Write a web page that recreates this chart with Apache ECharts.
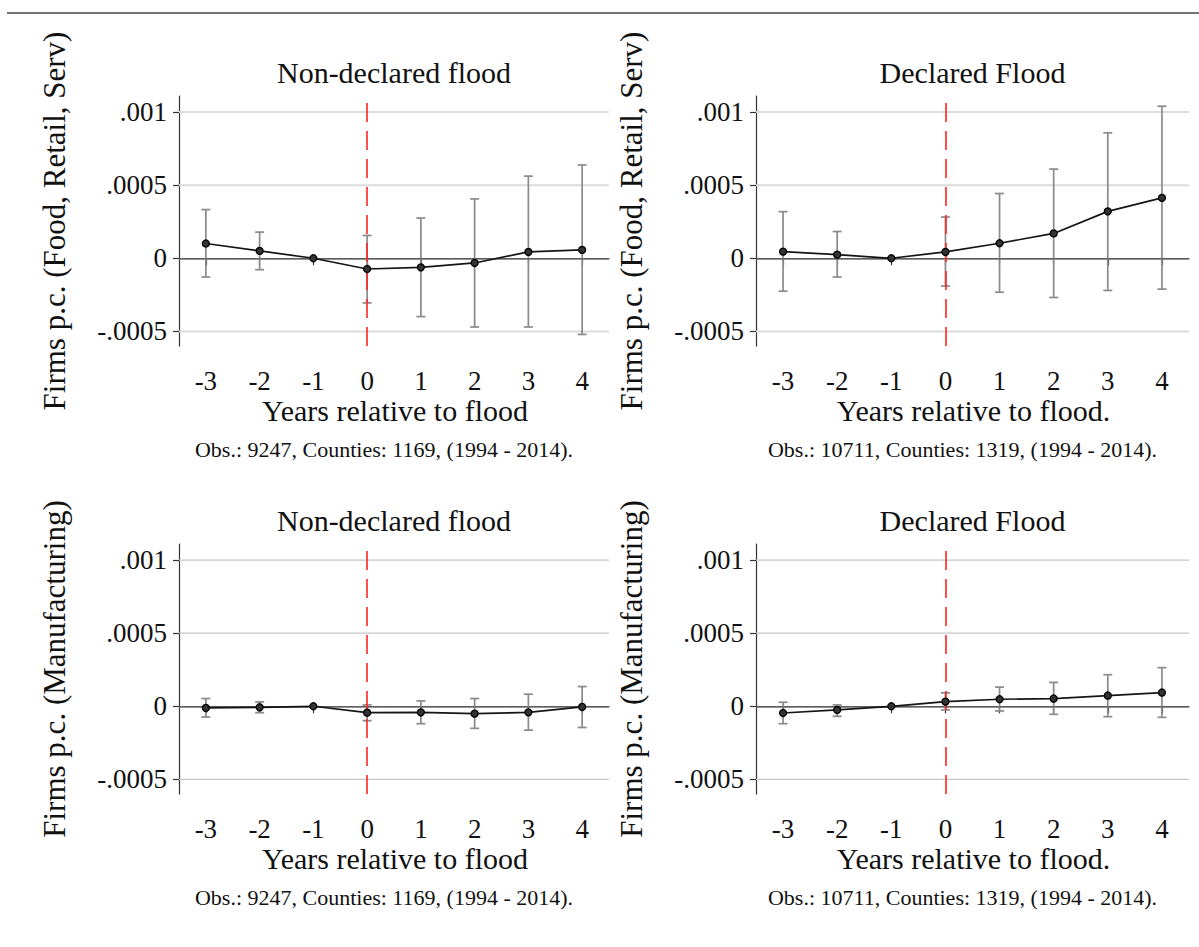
<!DOCTYPE html>
<html>
<head>
<meta charset="utf-8">
<script src="https://cdn.jsdelivr.net/npm/echarts@6/dist/echarts.min.js"></script>
<style>
html,body{margin:0;padding:0;background:#fff;}
#chart{width:1199px;height:947px;}
</style>
</head>
<body>
<div id="chart"></div>
<script>
// ---------- DATA ----------
const xCats = ['-3', '-2', '-1', '0', '1', '2', '3', '4'];
const yTickValues = [-0.0005, 0, 0.0005, 0.001];
const yTickLabels = ['-.0005', '0', '.0005', '.001'];

const panelTitles = ['Non-declared flood', 'Declared Flood', 'Non-declared flood', 'Declared Flood'];
const xTitles = ['Years relative to flood', 'Years relative to flood.', 'Years relative to flood', 'Years relative to flood.'];
const yTitles = ['Firms p.c. (Food, Retail, Serv)', 'Firms p.c. (Food, Retail, Serv)', 'Firms p.c. (Manufacturing)', 'Firms p.c. (Manufacturing)'];
const notes = ['Obs.: 9247, Counties: 1169, (1994 - 2014).', 'Obs.: 10711, Counties: 1319, (1994 - 2014).', 'Obs.: 9247, Counties: 1169, (1994 - 2014).', 'Obs.: 10711, Counties: 1319, (1994 - 2014).'];

// Non-declared flood, Food/Retail/Services
const coefNDServ = [0.000101, 0.0000505, 0, -0.0000734, -0.000062, -0.000032, 0.0000436, 0.0000573];
const loNDServ   = [-0.000128, -0.000078, null, -0.000305, -0.000399, -0.00047, -0.00047, -0.000521];
const hiNDServ   = [0.000333, 0.000179, null, 0.000156, 0.000275, 0.000406, 0.000562, 0.000638];

// Declared flood, Food/Retail/Services
const coefDServ = [0.0000459, 0.0000252, 0, 0.0000436, 0.000103, 0.00017, 0.000321, 0.000413];
const loDServ   = [-0.000225, -0.000128, null, -0.00019, -0.000232, -0.000268, -0.00022, -0.000211];
const hiDServ   = [0.000319, 0.000183, null, 0.000282, 0.000443, 0.00061, 0.000858, 0.00104];

// Non-declared flood, Manufacturing
const coefNDMan = [-0.0000115, -0.0000069, 0, -0.0000436, -0.0000413, -0.0000505, -0.0000413, -0.0000046];
const loNDMan   = [-0.0000734, -0.0000436, null, -0.0000986, -0.000119, -0.000151, -0.000163, -0.000145];
const hiNDMan   = [0.0000528, 0.0000298, null, 0.0000092, 0.0000367, 0.0000528, 0.0000826, 0.000135];

// Declared flood, Manufacturing
const coefDMan = [-0.0000459, -0.0000252, 0, 0.0000321, 0.0000482, 0.0000528, 0.0000734, 0.000094];
const loDMan   = [-0.000119, -0.0000688, null, -0.0000252, -0.0000321, -0.000055, -0.0000711, -0.0000757];
const hiDMan   = [0.0000275, 0.0000092, null, 0.0000917, 0.000131, 0.000163, 0.000216, 0.000264];

// ---------- LAYOUT / STYLE ----------
const FONT = "'Liberation Serif', 'DejaVu Serif', serif";
const panels = [
  { coef: coefNDServ, lo: loNDServ, hi: hiNDServ, left: 179, top: 96, width: 430, height: 250, grid: '#dcdcdc', gw: 2 },
  { coef: coefDServ,  lo: loDServ,  hi: hiDServ,  left: 756, top: 96, width: 433, height: 250, grid: '#dcdcdc', gw: 2 },
  { coef: coefNDMan,  lo: loNDMan,  hi: hiNDMan,  left: 179, top: 544, width: 430, height: 250, grid: '#c6c6c6', gw: 1.3 },
  { coef: coefDMan,   lo: loDMan,   hi: hiDMan,   left: 756, top: 544, width: 433, height: 250, grid: '#c6c6c6', gw: 1.3 }
];

const grids = [], xAxes = [], yAxes = [], series = [], graphics = [];

graphics.push({
  type: 'line', shape: { x1: 7, y1: 13, x2: 1199, y2: 13 },
  style: { stroke: '#444', lineWidth: 1.5 }, silent: true
});

const gridLineData = yTickValues.filter(v => v !== 0).map(v => [0, v]);

panels.forEach((p, k) => {
  grids.push({ left: p.left, top: p.top, width: p.width, height: p.height, containLabel: false });
  xAxes.push({
    type: 'category', gridIndex: k, data: xCats, boundaryGap: true,
    axisLine: { show: true, lineStyle: { color: '#333', width: 1.2 } },
    axisTick: { show: true, alignWithLabel: true, length: 7, lineStyle: { color: '#333', width: 1.2 } },
    axisLabel: { show: true, margin: 21, fontFamily: FONT, fontSize: 27, color: '#111' },
    splitLine: { show: false }
  });
  yAxes.push({
    type: 'value', gridIndex: k, min: -0.0006, max: 0.00111,
    axisLine: { show: true, lineStyle: { color: '#333', width: 1.2 } },
    axisTick: { show: true, length: 6, customValues: yTickValues, lineStyle: { color: '#333', width: 1.2 } },
    axisLabel: {
      show: true, margin: 12, fontFamily: FONT, fontSize: 27, color: '#111',
      customValues: yTickValues,
      formatter: function (v) {
        let best = 0, bd = Infinity;
        yTickValues.forEach((t, i) => { const d = Math.abs(t - v); if (d < bd) { bd = d; best = i; } });
        return yTickLabels[best];
      }
    },
    splitLine: { show: false }
  });

  const barData = [];
  p.lo.forEach((lo, i) => { if (lo !== null && p.hi[i] !== null) barData.push([i, lo, p.hi[i]]); });

  // light horizontal gridlines at the tick values
  series.push({
    type: 'custom', xAxisIndex: k, yAxisIndex: k, data: gridLineData, z: 1, silent: true,
    encode: { x: 0, y: 1 },
    renderItem: function (params, api) {
      const y = api.coord([0, api.value(1)])[1];
      const cs = params.coordSys;
      return {
        type: 'line',
        shape: { x1: cs.x, y1: y, x2: cs.x + cs.width, y2: y },
        style: { stroke: p.grid, lineWidth: p.gw }
      };
    }
  });

  // zero line + red dashed line
  series.push({
    type: 'line', xAxisIndex: k, yAxisIndex: k, data: [], silent: true, z: 2,
    markLine: {
      silent: true, symbol: 'none', label: { show: false }, animation: false,
      data: [
        { yAxis: 0, lineStyle: { color: '#6e6e6e', width: 1.5, type: 'solid' } },
        { xAxis: xCats.indexOf('0'), lineStyle: { color: '#ff2424', width: 1.6, type: [19, 9] } }
      ]
    }
  });

  series.push({
    type: 'custom', xAxisIndex: k, yAxisIndex: k, data: barData, z: 3, silent: true,
    renderItem: function (params, api) {
      const x = api.value(0);
      const a = api.coord([x, api.value(1)]);
      const b = api.coord([x, api.value(2)]);
      const hw = 4.5;
      const st = { stroke: '#8a8a8a', lineWidth: 1.7 };
      return {
        type: 'group',
        children: [
          { type: 'line', shape: { x1: a[0], y1: a[1], x2: b[0], y2: b[1] }, style: st },
          { type: 'line', shape: { x1: a[0] - hw, y1: a[1], x2: a[0] + hw, y2: a[1] }, style: st },
          { type: 'line', shape: { x1: b[0] - hw, y1: b[1], x2: b[0] + hw, y2: b[1] }, style: st }
        ]
      };
    }
  });

  series.push({
    type: 'line', xAxisIndex: k, yAxisIndex: k, data: p.coef, z: 5,
    symbol: 'circle', symbolSize: 7, showSymbol: true,
    lineStyle: { color: '#151515', width: 1.7 },
    itemStyle: { color: '#333', borderColor: '#000', borderWidth: 1.3 },
    silent: true
  });

  // texts
  const cx = p.left + p.width / 2;
  graphics.push({
    type: 'text', x: cx, y: p.top - 24,
    style: { text: panelTitles[k], fontFamily: FONT, fontSize: 30, fill: '#111', textAlign: 'center', textVerticalAlign: 'middle' }
  });
  graphics.push({
    type: 'text', x: cx + 1, y: p.top + p.height + 64,
    style: { text: xTitles[k], fontFamily: FONT, fontSize: 30, fill: '#111', textAlign: 'center', textVerticalAlign: 'middle' }
  });
  graphics.push({
    type: 'text', x: cx - 10, y: p.top + p.height + 103,
    style: { text: notes[k], fontFamily: FONT, fontSize: 22, fill: '#111', textAlign: 'center', textVerticalAlign: 'middle' }
  });
  graphics.push({
    type: 'text', x: p.left - 125, y: p.top + p.height / 2, rotation: Math.PI / 2,
    style: { text: yTitles[k], fontFamily: FONT, fontSize: 31, fill: '#111', textAlign: 'center', textVerticalAlign: 'middle' }
  });
});

const chart = echarts.init(document.getElementById('chart'), null, { renderer: 'svg' });
chart.setOption({
  backgroundColor: '#fff',
  animation: false,
  grid: grids,
  xAxis: xAxes,
  yAxis: yAxes,
  series: series,
  graphic: graphics
});
</script>
</body>
</html>
